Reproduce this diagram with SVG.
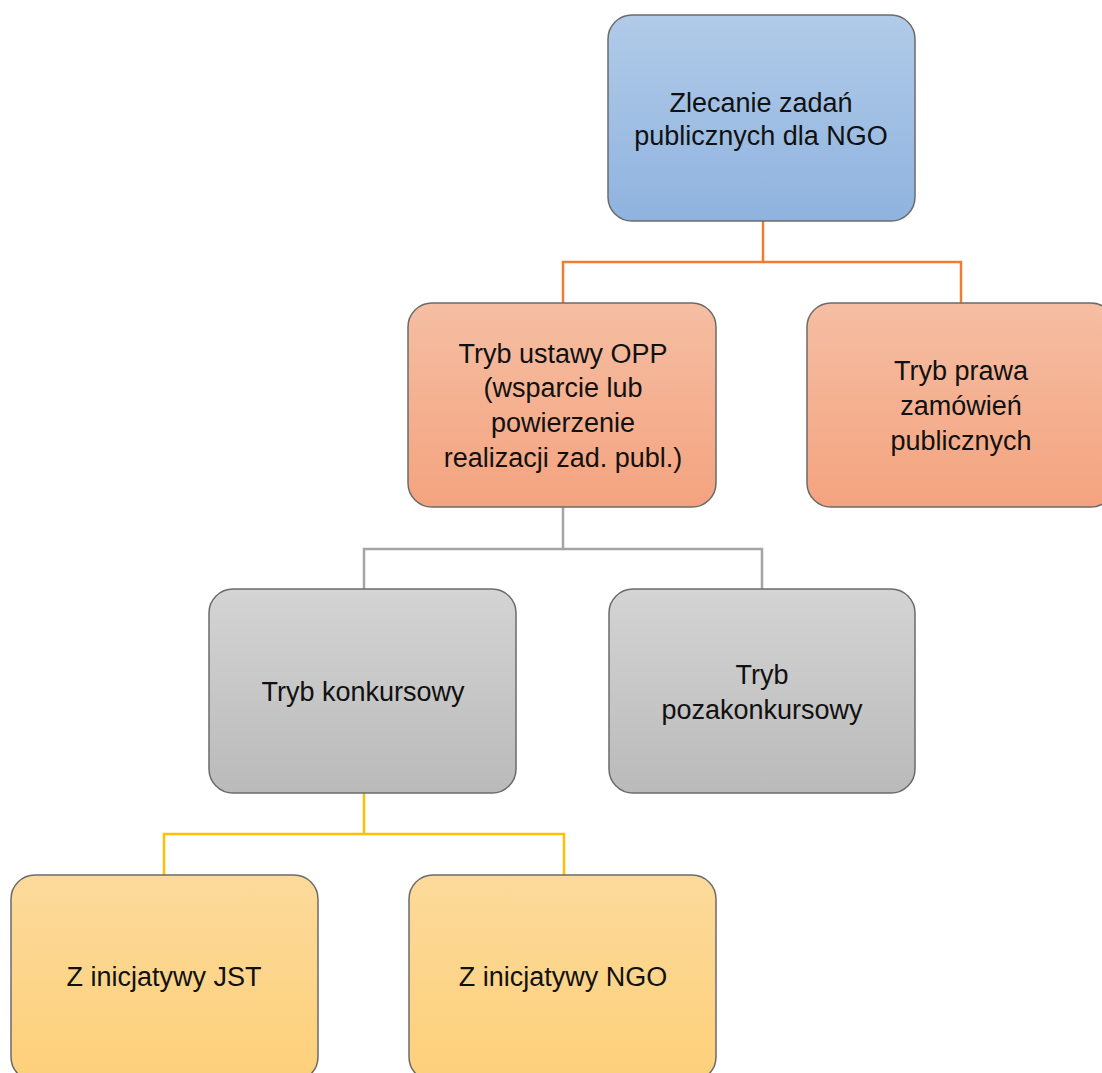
<svg xmlns="http://www.w3.org/2000/svg" width="1102" height="1073" viewBox="0 0 1102 1073">
<defs>
<linearGradient id="gBlue" x1="0" y1="0" x2="0" y2="1"><stop offset="0" stop-color="#b1cbe8"/><stop offset="1" stop-color="#8fb3df"/></linearGradient>
<linearGradient id="gOrange" x1="0" y1="0" x2="0" y2="1"><stop offset="0" stop-color="#f5bea3"/><stop offset="1" stop-color="#f4a37f"/></linearGradient>
<linearGradient id="gGrey" x1="0" y1="0" x2="0" y2="1"><stop offset="0" stop-color="#d4d4d4"/><stop offset="1" stop-color="#bababa"/></linearGradient>
<linearGradient id="gYellow" x1="0" y1="0" x2="0" y2="1"><stop offset="0" stop-color="#fcda9b"/><stop offset="1" stop-color="#fdd07a"/></linearGradient>
</defs>
<style>
.box{stroke:#6b6b6b;stroke-width:1.5}
.t{font-family:"Liberation Sans",Arial,sans-serif;font-size:27px;fill:#111;text-anchor:middle}
.c{fill:none;stroke-width:2.5}
</style>
<rect width="1102" height="1073" fill="#fff"/>
<g id="connectors">
<polyline class="c" stroke="#ed7d31" points="763,221 763,262 563,262 563,303"/>
<polyline class="c" stroke="#ed7d31" points="763,262 961,262 961,303"/>
<polyline class="c" stroke="#a5a5a5" points="563,507 563,549 364,549 364,589"/>
<polyline class="c" stroke="#a5a5a5" points="563,549 762,549 762,589"/>
<polyline class="c" stroke="#ffc000" points="364,793 364,834 164,834 164,875"/>
<polyline class="c" stroke="#ffc000" points="364,834 564,834 564,875"/>
</g>
<g id="n1">
<rect class="box" x="608" y="15" width="307" height="206" rx="24" fill="url(#gBlue)"/>
<text class="t" x="761" y="112">Zlecanie zadań</text>
<text class="t" x="761" y="145">publicznych dla NGO</text>
</g>
<g id="n2">
<rect class="box" x="408" y="303" width="308" height="204" rx="24" fill="url(#gOrange)"/>
<text class="t" x="563" y="363">Tryb ustawy OPP</text>
<text class="t" x="563" y="397">(wsparcie lub</text>
<text class="t" x="563" y="432">powierzenie</text>
<text class="t" x="563" y="467">realizacji zad. publ.)</text>
</g>
<g id="n3">
<rect class="box" x="807" y="303" width="308" height="204" rx="24" fill="url(#gOrange)"/>
<text class="t" x="961" y="380">Tryb prawa</text>
<text class="t" x="961" y="415">zamówień</text>
<text class="t" x="961" y="450">publicznych</text>
</g>
<g id="n4">
<rect class="box" x="209" y="589" width="307" height="204" rx="24" fill="url(#gGrey)"/>
<text class="t" x="363" y="701">Tryb konkursowy</text>
</g>
<g id="n5">
<rect class="box" x="609" y="589" width="306" height="204" rx="24" fill="url(#gGrey)"/>
<text class="t" x="762" y="684">Tryb</text>
<text class="t" x="762" y="719">pozakonkursowy</text>
</g>
<g id="n6">
<rect class="box" x="11" y="875" width="307" height="206" rx="24" fill="url(#gYellow)"/>
<text class="t" x="164" y="986">Z inicjatywy JST</text>
</g>
<g id="n7">
<rect class="box" x="409" y="875" width="307" height="206" rx="24" fill="url(#gYellow)"/>
<text class="t" x="563" y="986">Z inicjatywy NGO</text>
</g>
</svg>
